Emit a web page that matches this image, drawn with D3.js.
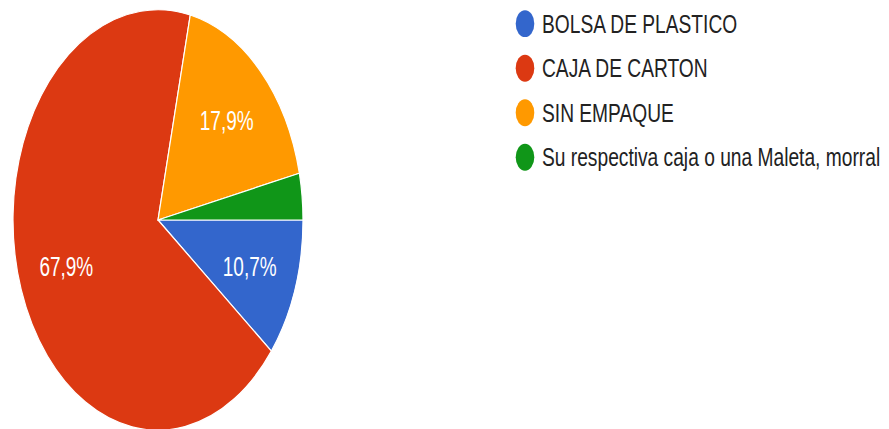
<!DOCTYPE html>
<html>
<head>
    <meta charset="utf-8">
    <title>Empaque</title>
    <style>
        body { margin: 0; background: #fff; }
        svg { display: block; font-family: "Liberation Sans", Arial, sans-serif; }
        .slice-label { fill: #fff; font-size: 19px; }
        .legend-label { fill: #222; font-size: 19.2px; }
    </style>
</head>
<body>
    <svg width="889" height="429"></svg>
<script src="https://d3js.org/d3.v7.min.js"></script>
<script>
    // data (28 answers)
    let categories = ["BOLSA DE PLASTICO", "CAJA DE CARTON", "SIN EMPAQUE", "Su respectiva caja o una Maleta, morral"];
    let counts = [3, 19, 5, 1];
    let colors = ["#3366cc", "#dc3912", "#ff9900", "#109618"];

    let svg = d3.select("svg");

    // the picture is stretched vertically
    let yScale = 1.45;
    let cx = 158, cy = 220, radius = 145;

    let total = d3.sum(counts);
    let data = categories.map((c, i) => ({ name: c, value: counts[i], color: colors[i] }));

    let pie = d3.pie()
        .sort(null)
        .value(d => d.value)
        .startAngle(Math.PI / 2)
        .endAngle(Math.PI / 2 + 2 * Math.PI);

    let arc = d3.arc().innerRadius(0).outerRadius(radius);
    let labelArc = d3.arc().innerRadius(radius * 0.67).outerRadius(radius * 0.67);

    let g = svg.append("g")
        .attr("transform", `translate(${cx},${cy}) scale(1,${yScale})`);

    let arcs = pie(data);

    g.selectAll("path")
        .data(arcs)
        .join("path")
        .attr("d", arc)
        .attr("fill", d => d.data.color)
        .attr("stroke", "#fff")
        .attr("stroke-width", 1.2)
        .attr("vector-effect", "non-scaling-stroke");

    let fmt = v => d3.format(".1f")(v).replace(".", ",") + "%";

    g.selectAll(".slice-label")
        .data(arcs.filter(d => d.data.value / total > 0.05))
        .join("text")
        .attr("class", "slice-label")
        .attr("x", d => labelArc.centroid(d)[0])
        .attr("y", d => labelArc.centroid(d)[1])
        .attr("text-anchor", "middle")
        .attr("dy", "0.35em")
        .text(d => fmt(d.data.value / total * 100));

    // legend
    let legend = svg.append("g")
        .attr("transform", `scale(1,${yScale})`);

    let legendY = d3.scalePoint()
        .domain(categories)
        .range([16.3, 16.3 + 30.7 * 3]);

    let item = legend.selectAll(".legend-item")
        .data(data)
        .join("g")
        .attr("class", "legend-item")
        .attr("transform", d => `translate(525,${legendY(d.name)})`);

    item.append("circle")
        .attr("r", 9.3)
        .attr("fill", d => d.color);

    // legend text is a bit wider than the font at that height
    item.append("text")
        .attr("class", "legend-label")
        .attr("x", 17)
        .attr("dy", "0.36em")
        .attr("transform", "scale(1,0.911)")
        .text(d => d.name);
</script>
</body>
</html>
